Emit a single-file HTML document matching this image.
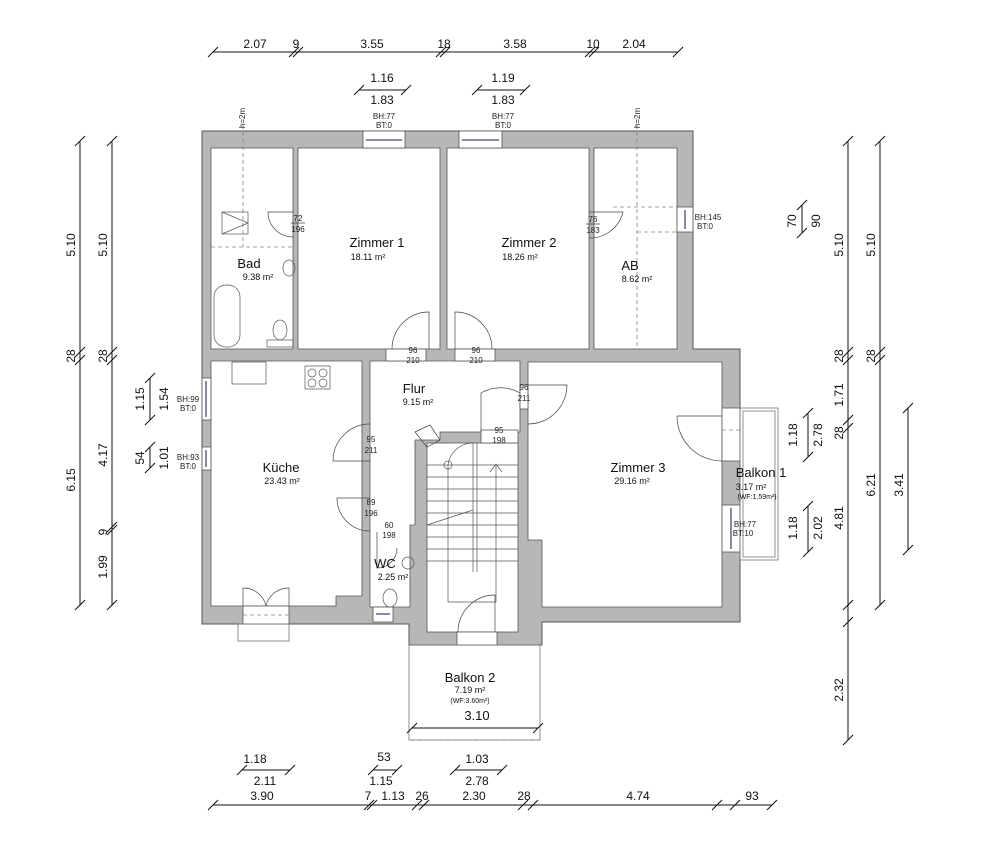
<!DOCTYPE html>
<html><head><meta charset="utf-8"><style>
html,body{margin:0;padding:0;background:#fff;}
svg{display:block;font-family:"Liberation Sans",sans-serif;}
</style></head><body>
<svg width="1000" height="853" viewBox="0 0 1000 853" xmlns="http://www.w3.org/2000/svg">
<!-- walls -->
<polygon points="202,131 693,131 693,349 740,349 740,622 542,622 542,645 409,645 409,624 202,624" fill="#b7b7b7" stroke="#555" stroke-width="1"/>
<g fill="#fff" stroke="#555" stroke-width="0.8">
<rect x="211" y="148" width="82" height="201"/>
<rect x="298" y="148" width="142" height="201"/>
<rect x="447" y="148" width="142" height="201"/>
<rect x="594" y="148" width="83" height="201"/>
<polygon points="211,361 362,361 362,596 336,596 336,606 211,606"/>
<polygon points="370,361 520,361 520,432 440,432 440,440 415,440 415,525 410,525 410,607 370,607"/>
<rect x="427" y="443" width="91" height="189"/>
<polygon points="528,362 722,362 722,607 542,607 542,540 528,540"/>
</g>
<!-- wall gaps / windows -->
<g fill="#fff" stroke="#555" stroke-width="0.8">
<rect x="363" y="131" width="42" height="17"/><rect x="459" y="131" width="43" height="17"/>
<rect x="677" y="207" width="16" height="25"/>
<rect x="202" y="378" width="9" height="42"/><rect x="202" y="447" width="9" height="23"/>
<rect x="722" y="408" width="18" height="53"/><rect x="722" y="505" width="18" height="47"/>
<rect x="373" y="607" width="20" height="15"/>
<rect x="243" y="606" width="46" height="18"/>
<rect x="457" y="632" width="40" height="13"/>
<rect x="386" y="349" width="40" height="12"/><rect x="455" y="349" width="40" height="12"/>
<rect x="520" y="385" width="8" height="24"/><rect x="481" y="430" width="37" height="13"/>
</g>
<g stroke="#8a8aa8" stroke-width="2"><line x1="366" y1="140" x2="402" y2="140"/><line x1="462" y1="140" x2="499" y2="140"/><line x1="685" y1="210" x2="685" y2="229"/><line x1="206" y1="381" x2="206" y2="417"/><line x1="206" y1="450" x2="206" y2="467"/><line x1="731" y1="508" x2="731" y2="549"/><line x1="376" y1="614" x2="390" y2="614"/></g>
<!-- dashed lines -->
<g stroke="#888" stroke-width="0.8" stroke-dasharray="4,3" fill="none">
<line x1="243" y1="125" x2="243" y2="247"/><line x1="211" y1="247" x2="293" y2="247"/>
<line x1="637" y1="125" x2="637" y2="349"/><line x1="613" y1="207" x2="677" y2="207"/><line x1="637" y1="232" x2="677" y2="232"/>
<line x1="243" y1="615" x2="289" y2="615"/><line x1="722" y1="430" x2="740" y2="430"/>
<line x1="411" y1="740" x2="539" y2="740"/>
</g>
<!-- balconies -->
<g fill="none" stroke="#777" stroke-width="0.8">
<rect x="409" y="645" width="131" height="95"/>
<rect x="740" y="408" width="38" height="152"/><rect x="743" y="411" width="32" height="146"/>
<rect x="238" y="624" width="51" height="17"/>
</g>
<!-- doors -->
<g fill="none" stroke="#444" stroke-width="0.7">
<path d="M293,212 H268 A25,25 0 0 0 293,237"/>
<path d="M589,212 H623 A34,34 0 0 1 589,238"/>
<path d="M429,349 V312 A37,37 0 0 0 392,349"/>
<path d="M455,349 V312 A37,37 0 0 1 492,349"/>
<path d="M528,385 H567 A39,39 0 0 1 528,424"/>
<path d="M481,432 V393 A39,39 0 0 1 520,393"/>
<path d="M370,424 A37,37 0 0 0 333,461 H370"/>
<path d="M370,531 A33,33 0 0 1 337,498 H370"/>
<path d="M377,532 V568 A20,20 0 0 0 397,548"/>
<path d="M722,461 A45,45 0 0 1 677,416 H722"/>
<path d="M458,632 A37,37 0 0 1 495,595 V632"/>
<path d="M243,606 V588 A23,23 0 0 1 266,606 M289,606 V588 A23,23 0 0 0 266,606"/>
<path d="M415,432 L430,425 L440,440 L427,447 Z"/>
</g>
<!-- stairs -->
<g stroke="#555" stroke-width="0.7" fill="none">
<line x1="427" y1="465" x2="518" y2="465"/><line x1="427" y1="477" x2="518" y2="477"/><line x1="427" y1="489" x2="518" y2="489"/><line x1="427" y1="501" x2="518" y2="501"/><line x1="427" y1="513" x2="518" y2="513"/><line x1="427" y1="525" x2="518" y2="525"/><line x1="427" y1="537" x2="518" y2="537"/><line x1="427" y1="549" x2="518" y2="549"/><line x1="427" y1="561" x2="518" y2="561"/>
<line x1="448" y1="465" x2="448" y2="602"/><line x1="473" y1="443" x2="473" y2="572"/><line x1="477" y1="443" x2="477" y2="572"/><line x1="496" y1="465" x2="496" y2="602"/><line x1="448" y1="602" x2="496" y2="602"/>
<path d="M490,472 L496,464 L502,472"/><circle cx="448" cy="465" r="4"/>
<path d="M448,465 A25,25 0 0 1 473,443"/>
<line x1="427" y1="525" x2="473" y2="510"/>
<rect x="222" y="212" width="26" height="22"/><path d="M222,212 L248,223 L222,234"/>
<rect x="214" y="285" width="26" height="62" rx="12"/>
<ellipse cx="280" cy="330" rx="7" ry="10"/><rect x="267" y="340" width="26" height="7"/>
<ellipse cx="289" cy="268" rx="6" ry="8"/>
<rect x="232" y="362" width="34" height="22"/><rect x="305" y="366" width="25" height="23"/>
<circle cx="312" cy="373" r="4"/><circle cx="323" cy="373" r="4"/><circle cx="312" cy="383" r="4"/><circle cx="323" cy="383" r="4"/>
<circle cx="408" cy="563" r="6"/><ellipse cx="390" cy="598" rx="7" ry="9"/>
</g>
<!-- room labels -->
<g fill="#111" text-anchor="middle">
<text x="249" y="268" font-size="13">Bad</text><text x="258" y="280" font-size="9">9.38 m²</text>
<text x="377" y="247" font-size="13">Zimmer 1</text><text x="368" y="260" font-size="9">18.11 m²</text>
<text x="529" y="247" font-size="13">Zimmer 2</text><text x="520" y="260" font-size="9">18.26 m²</text>
<text x="630" y="270" font-size="13">AB</text><text x="637" y="282" font-size="9">8.62 m²</text>
<text x="414" y="393" font-size="13">Flur</text><text x="418" y="405" font-size="9">9.15 m²</text>
<text x="281" y="472" font-size="13">Küche</text><text x="282" y="484" font-size="9">23.43 m²</text>
<text x="638" y="472" font-size="13">Zimmer 3</text><text x="632" y="484" font-size="9">29.16 m²</text>
<text x="385" y="568" font-size="13">WC</text><text x="393" y="580" font-size="9">2.25 m²</text>
<text x="470" y="682" font-size="13">Balkon 2</text><text x="470" y="693" font-size="9">7.19 m²</text><text x="470" y="703" font-size="7">(WF:3.60m²)</text>
<text x="761" y="477" font-size="13">Balkon 1</text><text x="751" y="490" font-size="9">3.17 m²</text><text x="757" y="499" font-size="7">(WF:1.59m²)</text>
</g>
<!-- small door / window labels -->
<g fill="#222" font-size="8" text-anchor="middle">
<text x="298" y="221">72</text><text x="298" y="232">196</text><line x1="291" y1="223" x2="305" y2="223" stroke="#222" stroke-width="0.6"/>
<text x="593" y="222">76</text><text x="593" y="233">183</text><line x1="586" y1="224" x2="600" y2="224" stroke="#222" stroke-width="0.6"/>
<text x="413" y="353">96</text><text x="413" y="363">210</text>
<text x="476" y="353">96</text><text x="476" y="363">210</text>
<text x="524" y="390">96</text><text x="524" y="401">211</text>
<text x="499" y="433">95</text><text x="499" y="443">198</text>
<text x="371" y="442">95</text><text x="371" y="453">211</text>
<text x="371" y="505">89</text><text x="371" y="516">196</text>
<text x="389" y="528">60</text><text x="389" y="538">198</text>
<text x="384" y="119">BH:77</text><text x="384" y="128">BT:0</text>
<text x="503" y="119">BH:77</text><text x="503" y="128">BT:0</text>
<text x="708" y="220">BH:145</text><text x="705" y="229">BT:0</text>
<text x="188" y="402">BH:99</text><text x="188" y="411">BT:0</text>
<text x="188" y="460">BH:93</text><text x="188" y="469">BT:0</text>
<text x="745" y="527">BH:77</text><text x="743" y="536">BT:10</text>
<text transform="translate(245,118) rotate(-90)">h=2m</text>
<text transform="translate(640,118) rotate(-90)">h=2m</text>
</g>
<!-- dimension lines -->
<g stroke="#111" stroke-width="1" fill="none">
<line x1="213" y1="52" x2="678" y2="52"/>
<path d="M208,57 l10,-10 M289,57 l10,-10 M293,57 l10,-10 M436,57 l10,-10 M440,57 l10,-10 M585,57 l10,-10 M589,57 l10,-10 M673,57 l10,-10"/>
<line x1="359" y1="90" x2="406" y2="90"/><path d="M354,95 l10,-10 M401,95 l10,-10"/>
<line x1="477" y1="90" x2="525" y2="90"/><path d="M472,95 l10,-10 M520,95 l10,-10"/>
<line x1="80" y1="141" x2="80" y2="605"/><path d="M75,146 l10,-10 M75,357 l10,-10 M75,365 l10,-10 M75,610 l10,-10"/>
<line x1="112" y1="141" x2="112" y2="605"/><path d="M107,146 l10,-10 M107,357 l10,-10 M107,365 l10,-10 M107,532 l10,-10 M107,535 l10,-10 M107,610 l10,-10"/>
<line x1="150" y1="378" x2="150" y2="420"/><path d="M145,383 l10,-10 M145,425 l10,-10"/>
<line x1="150" y1="447" x2="150" y2="468"/><path d="M145,452 l10,-10 M145,473 l10,-10"/>
<line x1="848" y1="141" x2="848" y2="740"/><path d="M843,146 l10,-10 M843,357 l10,-10 M843,365 l10,-10 M843,425 l10,-10 M843,433 l10,-10 M843,610 l10,-10 M843,627 l10,-10 M843,745 l10,-10"/>
<line x1="880" y1="141" x2="880" y2="605"/><path d="M875,146 l10,-10 M875,357 l10,-10 M875,365 l10,-10 M875,610 l10,-10"/>
<line x1="908" y1="408" x2="908" y2="550"/><path d="M903,413 l10,-10 M903,555 l10,-10"/>
<line x1="808" y1="413" x2="808" y2="457"/><path d="M803,418 l10,-10 M803,462 l10,-10"/>
<line x1="808" y1="506" x2="808" y2="552"/><path d="M803,511 l10,-10 M803,557 l10,-10"/>
<line x1="802" y1="205" x2="802" y2="233"/><path d="M797,210 l10,-10 M797,238 l10,-10"/>
<line x1="213" y1="805" x2="772" y2="805"/>
<path d="M208,810 l10,-10 M364,810 l10,-10 M367,810 l10,-10 M412,810 l10,-10 M419,810 l10,-10 M518,810 l10,-10 M528,810 l10,-10 M712,810 l10,-10 M730,810 l10,-10 M767,810 l10,-10"/>
<line x1="242" y1="770" x2="290" y2="770"/><path d="M237,775 l10,-10 M285,775 l10,-10"/>
<line x1="373" y1="770" x2="397" y2="770"/><path d="M368,775 l10,-10 M392,775 l10,-10"/>
<line x1="455" y1="770" x2="502" y2="770"/><path d="M450,775 l10,-10 M497,775 l10,-10"/>
<line x1="412" y1="728" x2="538" y2="728"/><path d="M407,733 l10,-10 M533,733 l10,-10"/>
</g>
<g fill="#111" font-size="12" text-anchor="middle">
<text x="255" y="48">2.07</text><text x="296" y="48">9</text><text x="372" y="48">3.55</text><text x="444" y="48">18</text><text x="515" y="48">3.58</text><text x="593" y="48">10</text><text x="634" y="48">2.04</text>
<text x="382" y="82">1.16</text><text x="382" y="104">1.83</text><text x="503" y="82">1.19</text><text x="503" y="104">1.83</text>
<text x="255" y="763">1.18</text><text x="265" y="785">2.11</text><text x="384" y="761">53</text><text x="381" y="785">1.15</text><text x="477" y="763">1.03</text><text x="477" y="785">2.78</text>
<text x="262" y="800">3.90</text><text x="368" y="800">7</text><text x="393" y="800">1.13</text><text x="422" y="800">26</text><text x="474" y="800">2.30</text><text x="524" y="800">28</text><text x="638" y="800">4.74</text><text x="752" y="800">93</text>
<text x="477" y="720" font-size="13">3.10</text>
<text transform="translate(75,245) rotate(-90)">5.10</text><text transform="translate(75,356) rotate(-90)">28</text><text transform="translate(75,480) rotate(-90)">6.15</text>
<text transform="translate(107,245) rotate(-90)">5.10</text><text transform="translate(107,356) rotate(-90)">28</text><text transform="translate(107,455) rotate(-90)">4.17</text><text transform="translate(107,532) rotate(-90)">9</text><text transform="translate(107,567) rotate(-90)">1.99</text>
<text transform="translate(144,399) rotate(-90)">1.15</text><text transform="translate(168,399) rotate(-90)">1.54</text>
<text transform="translate(144,458) rotate(-90)">54</text><text transform="translate(168,458) rotate(-90)">1.01</text>
<text transform="translate(843,245) rotate(-90)">5.10</text><text transform="translate(843,356) rotate(-90)">28</text><text transform="translate(843,395) rotate(-90)">1.71</text><text transform="translate(843,433) rotate(-90)">28</text><text transform="translate(843,518) rotate(-90)">4.81</text><text transform="translate(843,690) rotate(-90)">2.32</text>
<text transform="translate(875,245) rotate(-90)">5.10</text><text transform="translate(875,356) rotate(-90)">28</text><text transform="translate(875,485) rotate(-90)">6.21</text>
<text transform="translate(903,485) rotate(-90)">3.41</text>
<text transform="translate(797,435) rotate(-90)">1.18</text><text transform="translate(822,435) rotate(-90)">2.78</text>
<text transform="translate(797,528) rotate(-90)">1.18</text><text transform="translate(822,528) rotate(-90)">2.02</text>
<text transform="translate(796,221) rotate(-90)">70</text><text transform="translate(820,221) rotate(-90)">90</text>
</g>
</svg>
</body></html>
